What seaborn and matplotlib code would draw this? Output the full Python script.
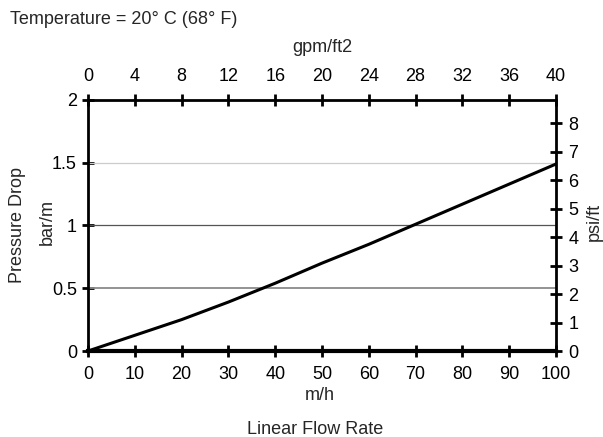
import matplotlib
matplotlib.use("Agg")
import matplotlib.pyplot as plt
import seaborn as sns
import pandas as pd

flow_mh = [0, 10, 20, 30, 40, 50, 60, 70, 80, 90, 100]
pressure_bar_m = [0, 0.125, 0.25, 0.39, 0.54, 0.70, 0.85, 1.01, 1.17, 1.33, 1.49]
left_ticks = [0, 0.5, 1, 1.5, 2]
left_labels = ["0", "0.5", "1", "1.5", "2"]
bottom_ticks = [0, 10, 20, 30, 40, 50, 60, 70, 80, 90, 100]
top_ticks = [0, 4, 8, 12, 16, 20, 24, 28, 32, 36, 40]
right_ticks = [0, 1, 2, 3, 4, 5, 6, 7, 8]
PSI_PER_BAR = 4.41

sns.set_theme(style="white")
plt.rcParams['font.family'] = ['Liberation Sans', 'DejaVu Sans']
FS = 13

fig = plt.figure(figsize=(6.03, 4.37), dpi=100)
ax = fig.add_axes([88/603, 1-351/437, (556-88)/603, (351-100)/437])

df = pd.DataFrame({"flow": flow_mh, "dp": pressure_bar_m})

# gridlines
ax.axhline(0.5, color="#8a8a8a", lw=1.3, zorder=1)
ax.axhline(1.0, color="#555555", lw=0.9, zorder=1)
ax.axhline(1.5, color="#cccccc", lw=0.9, zorder=1)

sns.lineplot(data=df, x="flow", y="dp", ax=ax, color="black", lw=2.2, zorder=3)
ax.set_xlim(0, 100)
ax.set_ylim(0, 2)
ax.set_xticks(bottom_ticks)
ax.set_xticklabels([str(t) for t in bottom_ticks])
ax.set_yticks(left_ticks)
ax.set_yticklabels(left_labels)
ax.set_xlabel("")
ax.set_ylabel("")
ax.tick_params(axis="x", direction="inout", length=8, width=2, colors="black",
               labelsize=FS, pad=7)
ax.tick_params(axis="y", direction="inout", length=8, width=2, colors="black",
               labelsize=FS, pad=4)
for side, lw in [("left", 2), ("bottom", 3), ("top", 2), ("right", 2)]:
    ax.spines[side].set_visible(True)
    ax.spines[side].set_color("black")
    ax.spines[side].set_linewidth(lw)

# top axis
axt = ax.twiny()
axt.set_xlim(0, 40)
axt.set_xticks(top_ticks)
axt.set_xticklabels([str(t) for t in top_ticks])
axt.tick_params(axis="x", direction="inout", length=8, width=2, colors="black",
                labelsize=FS, pad=7)
axt.grid(False)

# right axis
axr = ax.twinx()
axr.set_ylim(0, 2 * PSI_PER_BAR)
axr.set_yticks(right_ticks)
axr.set_yticklabels([str(t) for t in right_ticks])
axr.tick_params(axis="y", direction="inout", length=8, width=2, colors="black",
                labelsize=FS, pad=5)
axr.grid(False)
for a in (axt, axr):
    for s in a.spines.values():
        s.set_visible(False)

fig.text(10/603, 1-20/437, "Temperature = 20° C (68° F)", fontsize=FS, ha="left", va="center")
fig.text(322/603, 1-48/437, "gpm/ft2", fontsize=FS, ha="center", va="center")
fig.text(320/603, 1-395/437, "m/h", fontsize=FS, ha="center", va="center")
fig.text(315/603, 1-430/437, "Linear Flow Rate", fontsize=FS, ha="center", va="center")
fig.text(18/603, 1-225/437, "Pressure Drop", fontsize=FS, ha="center", va="center", rotation=90)
fig.text(47/603, 1-222/437, "bar/m", fontsize=FS, ha="center", va="center", rotation=90)
fig.text(594/603, 1-222/437, "psi/ft", fontsize=FS, ha="center", va="center", rotation=90)

fig.savefig("out.png", dpi=100, facecolor="white")
